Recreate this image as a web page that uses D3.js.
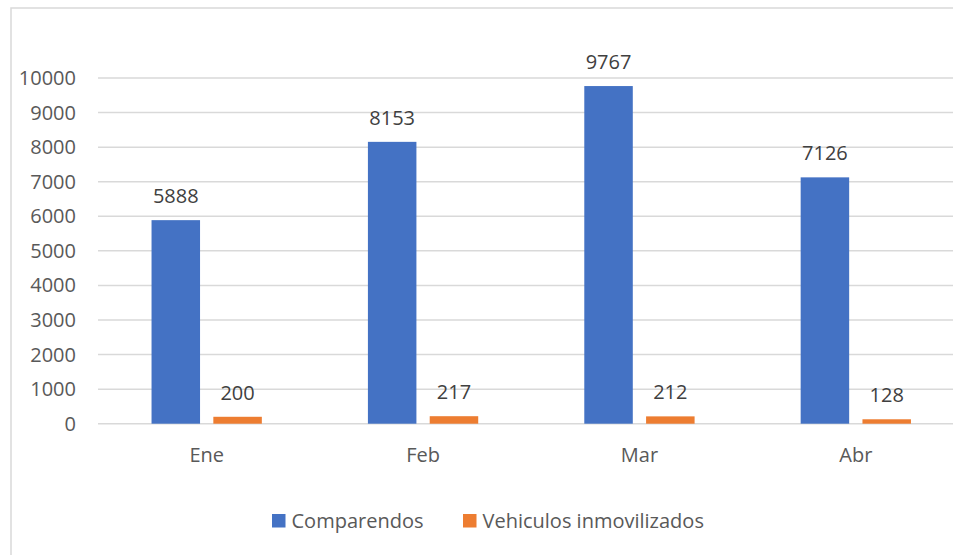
<!DOCTYPE html>
<html>
<head>
<meta charset="utf-8">
<script src="https://cdn.jsdelivr.net/npm/d3@7"></script>
<style>
  html, body { margin: 0; padding: 0; background: #fff; }
  svg { display: block; font-family: "Open Sans", sans-serif; }
</style>
</head>
<body>
<svg id="chart" width="953" height="555"></svg>
<script>
// chart data
const months = ["Ene", "Feb", "Mar", "Abr"];
const comparendos = [5888, 8153, 9767, 7126];
const inmovilizados = [200, 217, 212, 128];
const seriesNames = ["Comparendos", "Vehiculos inmovilizados"];
const yTicks = [0, 1000, 2000, 3000, 4000, 5000, 6000, 7000, 8000, 9000, 10000];

const colors = ["#4472C4", "#ED7D31"];
const series = [comparendos, inmovilizados];

const svg = d3.select("#chart");

// outer chart border (right/bottom cut off like the original)
svg.append("rect")
   .attr("x", 11).attr("y", 8)
   .attr("width", 1000).attr("height", 600)
   .attr("fill", "none")
   .attr("stroke", "#d9d9d9")
   .attr("stroke-width", 1.5);

const x = d3.scaleBand().domain(months).range([98.5, 964]);
const y = d3.scaleLinear().domain([0, 10000]).range([423.7, 78]);
const barW = 48.5, gap = 13.3;
// two bars per month, centred on the band
const inner = d3.scaleBand().domain([0, 1])
    .range([-(barW + gap / 2), barW + gap / 2])
    .paddingInner(gap / (barW + gap))
    .paddingOuter(0);

// gridlines
svg.append("g")
   .selectAll("line")
   .data(yTicks)
   .enter().append("line")
   .attr("x1", 98).attr("x2", 953)
   .attr("y1", d => y(d)).attr("y2", d => y(d))
   .attr("stroke", "#d9d9d9")
   .attr("stroke-width", 1.5);

// y axis labels
svg.append("g")
   .selectAll("text")
   .data(yTicks)
   .enter().append("text")
   .attr("x", 76)
   .attr("y", d => y(d))
   .attr("dy", "0.35em")
   .attr("text-anchor", "end")
   .attr("font-size", 20)
   .attr("fill", "#595959")
   .text(d => d);

// bars + labels
series.forEach((vals, si) => {
    const g = svg.append("g");
    g.selectAll("rect")
     .data(vals)
     .enter().append("rect")
     .attr("x", (d, i) => x(months[i]) + x.bandwidth() / 2 + inner(si))
     .attr("y", d => y(d))
     .attr("width", inner.bandwidth())
     .attr("height", d => y(0) - y(d))
     .attr("fill", colors[si]);

    g.selectAll("text")
     .data(vals)
     .enter().append("text")
     .attr("x", (d, i) => x(months[i]) + x.bandwidth() / 2 + inner(si) + inner.bandwidth() / 2)
     .attr("y", d => y(d) - 17)
     .attr("text-anchor", "middle")
     .attr("font-size", 20)
     .attr("fill", "#404040")
     .text(d => d);
});

// x axis labels
svg.append("g")
   .selectAll("text")
   .data(months)
   .enter().append("text")
   .attr("x", d => x(d) + x.bandwidth() / 2)
   .attr("y", 455)
   .attr("dy", "0.35em")
   .attr("text-anchor", "middle")
   .attr("font-size", 20)
   .attr("fill", "#595959")
   .text(d => d);

// legend
const legendX = [272, 463];
const legend = svg.append("g");
seriesNames.forEach((name, i) => {
    legend.append("rect")
          .attr("x", legendX[i]).attr("y", 514)
          .attr("width", 13.5).attr("height", 13.5)
          .attr("fill", colors[i]);
    legend.append("text")
          .attr("x", legendX[i] + 19.5)
          .attr("y", 521)
          .attr("dy", "0.35em")
          .attr("font-size", 20)
          .attr("fill", "#595959")
          .text(name);
});
</script>
</body>
</html>
